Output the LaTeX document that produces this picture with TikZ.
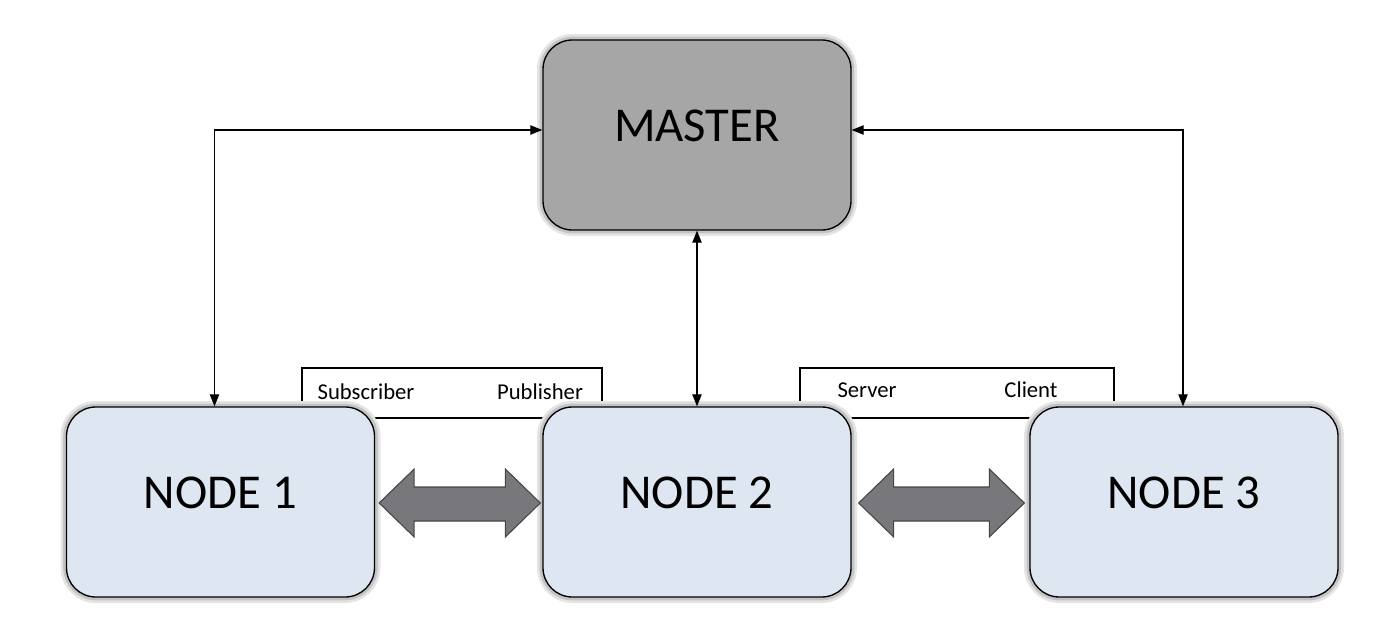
\documentclass[tikz,border=0pt]{standalone}
\usepackage{fontspec}
\setmainfont{Carlito}
\usetikzlibrary{arrows.meta,calc}
\definecolor{nodefill}{RGB}{222,230,242}
\definecolor{masterfill}{RGB}{166,166,166}
\definecolor{bigfill}{RGB}{120,120,124}
\definecolor{bigline}{RGB}{70,70,72}
\definecolor{glow}{RGB}{196,196,196}
\newcommand{\boxtext}[1]{\raisebox{-4.5pt}[0pt][0pt]{#1}}
\begin{document}
\begin{tikzpicture}[x=0.75pt,y=-0.75pt,
  box/.style={draw=black, line width=1pt, rounded corners=22pt,
    minimum width=231pt, minimum height=142.5pt, inner sep=0pt,
    preaction={draw=glow!45, line width=9pt},
    preaction={draw=glow, line width=5pt},
    font=\fontsize{36.5}{40}\selectfont},
  lblbox/.style={draw=black, line width=1pt, fill=white,
    minimum width=225pt, minimum height=37.5pt, inner sep=0pt},
  lbltext/.style={font=\fontsize{17}{20}\selectfont, inner sep=0pt},
  arr/.style={line width=0.9pt, {Triangle[length=9pt,width=7pt]}-{Triangle[length=9pt,width=7pt]}},
  bigarr/.style={fill=bigfill, draw=bigline, line width=0.8pt, line join=miter}
]
\useasboundingbox (0,0) rectangle (1400,639);

% label boxes (behind nodes)
\node[lblbox] (lb1) at (452,393) {};
\node[lblbox, minimum width=235.5pt] (lb2) at (957,393) {};
\node[lbltext] (sub) at (366,392) {Subscriber};
\node[lbltext] (pub) at (540,392) {Publisher};
\node[lbltext] (srv) at (867,390) {Server};
\node[lbltext] (cli) at (1031,390) {Client};

% main boxes
\node[box, fill=masterfill] (master) at (697,135) {\boxtext{MASTER}};
\node[box, fill=nodefill] (n1) at (220.5,502) {\boxtext{NODE 1}};
\node[box, fill=nodefill] (n2) at (697,502) {\boxtext{NODE 2}};
\node[box, fill=nodefill] (n3) at (1184,502) {\boxtext{NODE 3}};

% thin connectors
\draw[arr] ($(n1.north)+(-6,0)$) |- ($(master.west)+(0,-5)$);
\draw[arr] ($(n3.north)+(-1,0)$) |- ($(master.east)+(0,-5)$);
\draw[arr] (master.south) -- (n2.north);

% big double arrows
\coordinate (a1) at ($(n1.east)+(4,1)$);
\coordinate (a2) at ($(n2.west)+(-2,1)$);
\draw[bigarr] (a1) -- ($(a1)+(35,-34)$) -- ($(a1)+(35,-16)$) -- ($(a2)+(-35,-16)$)
  -- ($(a2)+(-35,-34)$) -- (a2) -- ($(a2)+(-35,34)$) -- ($(a2)+(-35,18)$)
  -- ($(a1)+(35,18)$) -- ($(a1)+(35,34)$) -- cycle;
\coordinate (b1) at ($(n2.east)+(7,1)$);
\coordinate (b2) at ($(n3.west)+(-5,1)$);
\draw[bigarr] (b1) -- ($(b1)+(35,-34)$) -- ($(b1)+(35,-16)$) -- ($(b2)+(-35,-16)$)
  -- ($(b2)+(-35,-34)$) -- (b2) -- ($(b2)+(-35,34)$) -- ($(b2)+(-35,18)$)
  -- ($(b1)+(35,18)$) -- ($(b1)+(35,34)$) -- cycle;
\end{tikzpicture}
\end{document}
